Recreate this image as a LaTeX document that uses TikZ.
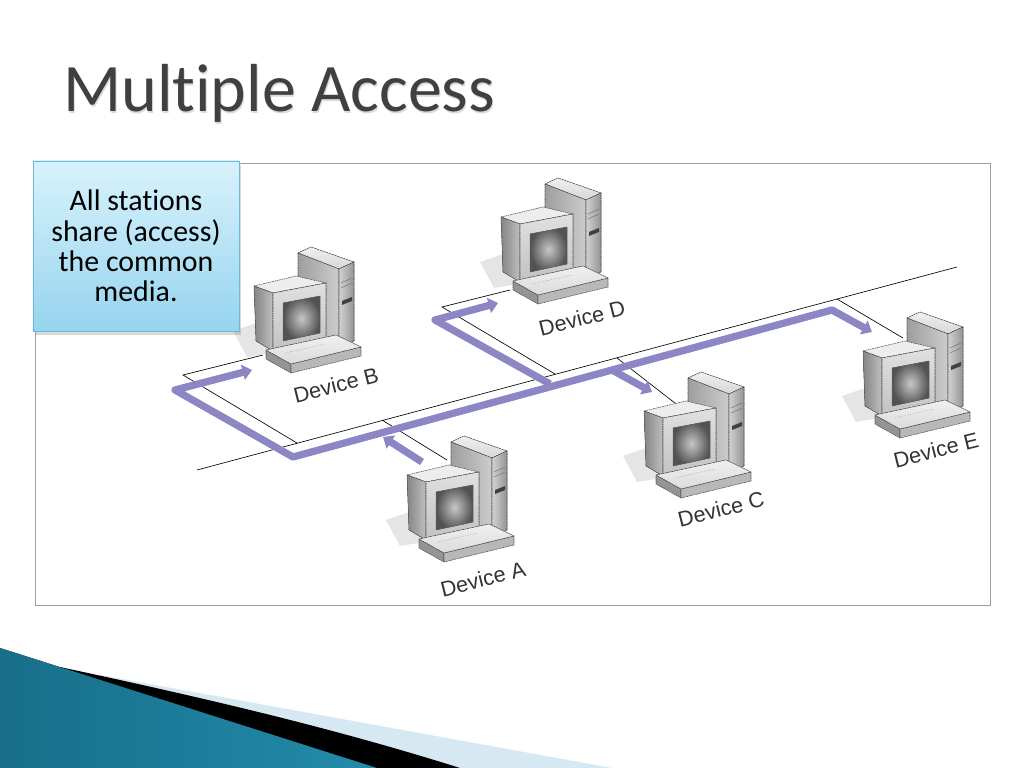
\documentclass[tikz,border=0pt]{standalone}
\usepackage{fontspec}
\setmainfont{Carlito}[Ligatures=NoCommon]
\newfontfamily\labelfont{Liberation Sans}
\usetikzlibrary{arrows.meta,shadows}

\definecolor{signal}{RGB}{140,134,196}
\definecolor{titlegray}{RGB}{64,64,64}
\definecolor{tealdark}{RGB}{24,110,138}
\definecolor{teallight}{RGB}{92,184,214}
\definecolor{tealmid}{RGB}{34,140,170}
\definecolor{paleblue}{RGB}{214,232,241}
\definecolor{boxtop}{RGB}{216,242,252}
\definecolor{boxbottom}{RGB}{150,212,238}
\definecolor{boxedge}{RGB}{110,186,214}
\definecolor{framegray}{RGB}{150,160,172}

\tikzset{
  wire/.style={draw=black, line width=0.55pt},
  signal path/.style={draw=signal, line width=6.2pt, line join=round},
  signal arrow/.style={signal path, -{Triangle[length=8pt,width=13pt]}},
  device label/.style={font=\labelfont\fontsize{18.5}{21}\selectfont, text=black!80, rotate=14, inner sep=0pt},
  face/.style={draw=black!70, line width=0.45pt, line join=round, dash pattern=on 1.4pt off 0.6pt},
  pics/pc/.style={code={
    % shadow on the desk
    \fill[black!10] (-18,88) -- (5,80) -- (20,110) -- (-4,114) -- cycle;
    % tower
    \fill[face, top color=black!6, bottom color=black!16] (47,10) -- (60,4) -- (103,19) -- (88,26) -- cycle;
    \fill[face, left color=black!38, right color=black!20] (47,10) -- (88,26) -- (88,105) -- (47,88) -- cycle;
    \fill[face, left color=black!18, right color=black!42] (88,26) -- (103,19) -- (103,98) -- (88,105) -- cycle;
    \draw[black!55, line width=0.4pt] (90,40) -- (101,35) (90,45) -- (101,40);
    \fill[black!75] (91,58) -- (101,54) -- (101,58) -- (91,62) -- cycle;
    % monitor
    \fill[face, fill=black!7] (3,43) -- (45,33) -- (75,40) -- (22,50) -- cycle;
    \fill[face, left color=black!48, right color=black!25] (3,43) -- (22,50) -- (22,108) -- (5,98) -- cycle;
    \fill[face, top color=black!12, bottom color=black!24] (22,50) -- (75,40) -- (75,97) -- (22,108) -- cycle;
    \fill[draw=black!60, line width=0.4pt, inner color=black!22, outer color=black!68] (32,60) -- (69,53) -- (69,90) -- (32,98) -- cycle;
    % keyboard
    \fill[face, fill=black!42] (15,107) -- (40,121) -- (40,130) -- (15,116) -- cycle;
    \fill[face, fill=black!28] (40,121) -- (110,104) -- (110,113) -- (40,130) -- cycle;
    \fill[face, top color=black!6, bottom color=black!14] (15,107) -- (85,92) -- (110,104) -- (40,121) -- cycle;
    \draw[black!45, densely dotted] (34,110) -- (74,101);
  }}
}

\begin{document}
\begin{tikzpicture}[x=0.03cm, y=-0.03cm]
  \useasboundingbox (0,0) rectangle (1024,768);

  % title
  \node[anchor=base west, inner sep=0pt, text=black!14, font=\fontsize{58}{60}\selectfont] (title shadow) at (64,113.5) {Multiple Access};
  \node[anchor=base west, inner sep=0pt, text=titlegray, font=\fontsize{58}{60}\selectfont] (title) at (63,112) {Multiple Access};

  % frame of the figure
  \draw[framegray, line width=0.6pt] (35,163) rectangle (990,605);

  % bus and taps
  \coordinate (bus west) at (197,470);
  \coordinate (bus east) at (957,267);
  \coordinate (tapB) at (297,443);
  \coordinate (cornerB) at (183,375);
  \coordinate (endB) at (263,355);
  \coordinate (tapA) at (382,420);
  \coordinate (endA) at (447,460);
  \coordinate (tapD) at (555,374);
  \coordinate (cornerD) at (442,307);
  \coordinate (endD) at (510,290);
  \coordinate (tapC) at (617,358);
  \coordinate (endC) at (680,407);
  \coordinate (tapE) at (837,299);
  \coordinate (endE) at (903,338);

  \draw[wire] (bus west) -- (bus east);
  \draw[wire] (tapB) -- (cornerB) -- (endB);
  \draw[wire] (tapA) -- (endA);
  \draw[wire] (tapD) -- (cornerD) -- (endD);
  \draw[wire] (tapC) -- (endC);
  \draw[wire] (tapE) -- (endE);

  % signal sent by device A
  \coordinate (tipB) at (252,370);
  \coordinate (bendB) at (175,390);
  \coordinate (bendMain) at (293,457);
  \coordinate (bendE) at (832,310);
  \coordinate (tipE) at (872,332);
  \coordinate (joinD) at (550,384);
  \coordinate (bendD) at (435,320);
  \coordinate (tipD) at (498,303);
  \coordinate (joinC) at (612,370);
  \coordinate (tipC) at (652,392);
  \coordinate (startA) at (422,462);
  \coordinate (tipA) at (383,437);

  \draw[signal path, {Triangle[length=8pt,width=13pt]}-{Triangle[length=8pt,width=13pt]}]
    (tipB) -- (bendB) -- (bendMain) -- (bendE) -- (tipE);
  \draw[signal arrow] (joinD) -- (bendD) -- (tipD);
  \draw[signal arrow] (joinC) -- (tipC);
  \draw[signal arrow] (startA) -- (tipA);

  % devices
  \pic (pcB) at (251,243) {pc};
  \pic (pcD) at (498,174) {pc};
  \pic (pcA) at (404,432) {pc};
  \pic (pcC) at (641,368) {pc};
  \pic (pcE) at (860,308) {pc};

  \node[device label] (labelB) at (336,385) {Device B};
  \node[device label] (labelD) at (582,318) {Device D};
  \node[device label] (labelA) at (483,579) {Device A};
  \node[device label] (labelC) at (721,509) {Device C};
  \node[device label] (labelE) at (936,450) {Device E};

  % callout
  \node[draw=boxedge, line width=0.6pt, top color=boxtop, bottom color=boxbottom,
        drop shadow={shadow xshift=2pt, shadow yshift=-3pt, opacity=0.3},
        minimum width=6.18cm, minimum height=5.1cm, align=center, inner sep=0pt,
        font=\fontsize{25.5}{26}\selectfont] (note) at (136,246)
        {All stations\\share (access)\\the common\\media.};

  % corner swoosh
  \fill[paleblue] (100,675) -- (612,768) -- (100,768) -- cycle;
  \fill[black] (60,667) .. controls (200,697) and (330,727) .. (460,768) -- (60,768) -- cycle;
  \fill[left color=tealdark, middle color=teallight, right color=tealmid] (0,648) -- (377,768) -- (0,768) -- cycle;
\end{tikzpicture}
\end{document}
